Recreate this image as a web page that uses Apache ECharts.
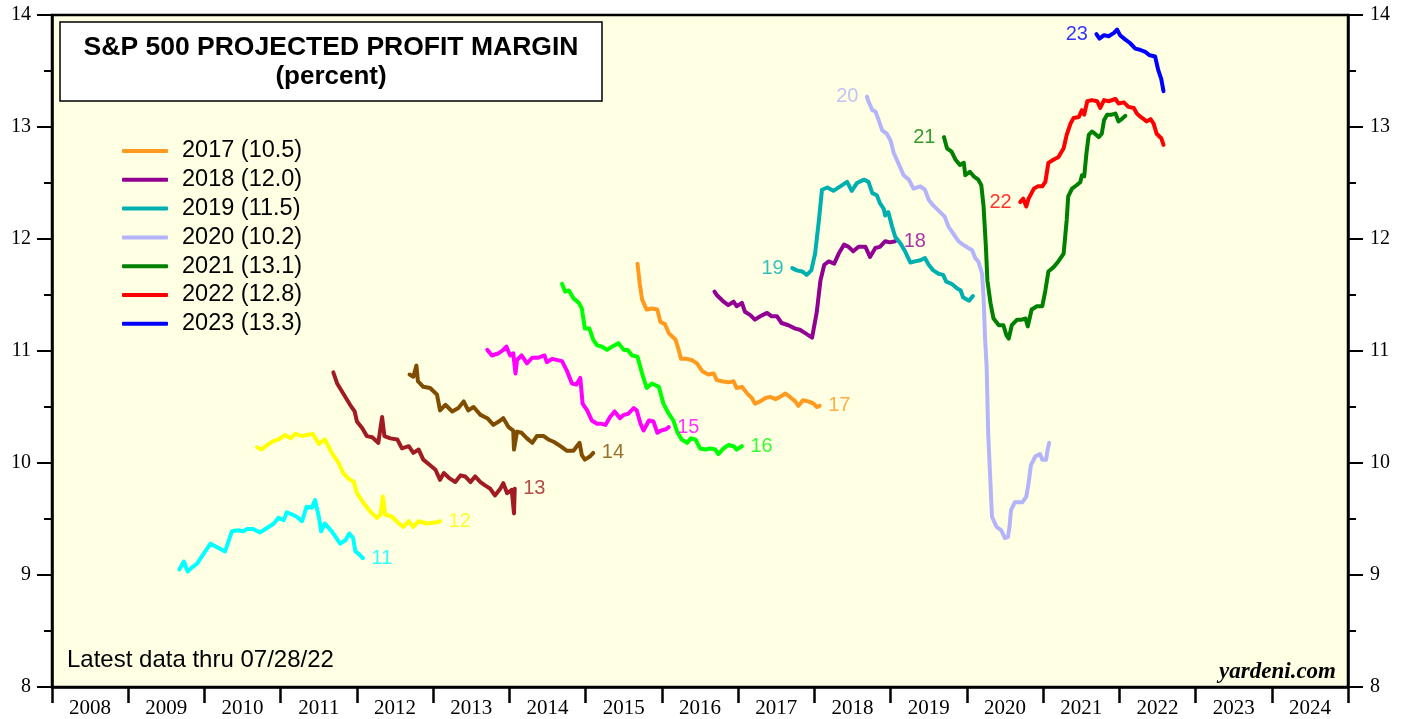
<!DOCTYPE html>
<html>
<head>
<meta charset="utf-8">
<script src="https://cdn.jsdelivr.net/npm/echarts@6.0.0/dist/echarts.min.js"></script>
<style>
html,body{margin:0;padding:0;background:#fff;}
#chart{width:1407px;height:719px;}
</style>
</head>
<body>
<div id="chart"></div>
<script>
// ---- tick labels ----
const yearLabels = ['2008','2009','2010','2011','2012','2013','2014','2015','2016','2017','2018','2019','2020','2021','2022','2023','2024'];

// ---- series data: [decimal year, projected margin %] ----
const s11 = [[2009.67,9.05],[2009.73,9.12],[2009.78,9.03],[2009.84,9.07],[2009.90,9.10],[2009.99,9.19],[2010.08,9.28],[2010.16,9.25],[2010.27,9.21],[2010.36,9.39],[2010.45,9.40],[2010.51,9.39],[2010.56,9.41],[2010.64,9.41],[2010.73,9.38],[2010.82,9.42],[2010.91,9.46],[2010.97,9.51],[2011.04,9.49],[2011.08,9.56],[2011.15,9.54],[2011.21,9.52],[2011.28,9.48],[2011.34,9.61],[2011.41,9.60],[2011.45,9.67],[2011.50,9.52],[2011.53,9.39],[2011.58,9.46],[2011.67,9.39],[2011.78,9.28],[2011.85,9.31],[2011.90,9.37],[2011.95,9.33],[2011.98,9.21],[2012.02,9.19],[2012.08,9.15]];
const s12 = [[2010.69,10.14],[2010.75,10.12],[2010.82,10.16],[2010.89,10.19],[2010.97,10.21],[2011.06,10.25],[2011.13,10.22],[2011.19,10.26],[2011.28,10.24],[2011.34,10.25],[2011.42,10.26],[2011.50,10.17],[2011.58,10.21],[2011.67,10.09],[2011.76,10.00],[2011.82,9.91],[2011.89,9.86],[2011.96,9.83],[2012.00,9.73],[2012.09,9.64],[2012.17,9.57],[2012.26,9.51],[2012.31,9.54],[2012.34,9.70],[2012.37,9.54],[2012.46,9.52],[2012.55,9.46],[2012.61,9.43],[2012.68,9.48],[2012.74,9.43],[2012.81,9.48],[2012.92,9.46],[2013.05,9.47],[2013.09,9.48]];
const s13 = [[2011.69,10.81],[2011.74,10.71],[2011.82,10.62],[2011.91,10.52],[2011.97,10.46],[2012.00,10.37],[2012.07,10.31],[2012.13,10.24],[2012.20,10.23],[2012.28,10.18],[2012.33,10.41],[2012.36,10.24],[2012.44,10.22],[2012.53,10.21],[2012.59,10.13],[2012.68,10.15],[2012.74,10.09],[2012.81,10.12],[2012.87,10.03],[2012.96,9.98],[2013.03,9.94],[2013.09,9.85],[2013.14,9.91],[2013.22,9.86],[2013.29,9.83],[2013.36,9.89],[2013.42,9.88],[2013.49,9.83],[2013.55,9.88],[2013.62,9.83],[2013.68,9.80],[2013.75,9.77],[2013.81,9.71],[2013.88,9.77],[2013.92,9.82],[2013.97,9.73],[2014.03,9.76],[2014.06,9.55],[2014.07,9.77]];
const s14 = [[2012.69,10.79],[2012.74,10.77],[2012.78,10.87],[2012.80,10.73],[2012.87,10.68],[2012.96,10.67],[2013.05,10.61],[2013.09,10.47],[2013.16,10.52],[2013.25,10.46],[2013.33,10.49],[2013.40,10.55],[2013.46,10.47],[2013.53,10.50],[2013.62,10.43],[2013.71,10.40],[2013.79,10.34],[2013.86,10.37],[2013.92,10.40],[2013.99,10.32],[2014.05,10.29],[2014.06,10.12],[2014.10,10.28],[2014.16,10.27],[2014.23,10.22],[2014.30,10.18],[2014.36,10.24],[2014.45,10.24],[2014.51,10.21],[2014.58,10.19],[2014.67,10.15],[2014.75,10.11],[2014.84,10.11],[2014.92,10.18],[2014.95,10.07],[2014.99,10.03],[2015.06,10.06],[2015.10,10.09]];
const s15 = [[2013.71,11.01],[2013.77,10.96],[2013.86,10.98],[2013.92,11.01],[2013.96,11.04],[2014.01,10.96],[2014.05,10.98],[2014.08,10.80],[2014.10,10.92],[2014.16,10.96],[2014.23,10.89],[2014.30,10.94],[2014.38,10.94],[2014.46,10.96],[2014.49,10.90],[2014.56,10.93],[2014.69,10.91],[2014.75,10.83],[2014.82,10.71],[2014.88,10.70],[2014.93,10.76],[2014.96,10.53],[2015.02,10.47],[2015.08,10.38],[2015.15,10.35],[2015.21,10.35],[2015.26,10.34],[2015.32,10.41],[2015.38,10.46],[2015.45,10.40],[2015.50,10.43],[2015.56,10.44],[2015.63,10.49],[2015.67,10.47],[2015.72,10.35],[2015.76,10.29],[2015.83,10.38],[2015.89,10.37],[2015.94,10.27],[2015.99,10.29],[2016.05,10.30],[2016.09,10.32]];
const s16 = [[2014.69,11.60],[2014.73,11.53],[2014.78,11.54],[2014.84,11.47],[2014.91,11.43],[2014.95,11.38],[2014.99,11.20],[2015.05,11.20],[2015.10,11.10],[2015.15,11.05],[2015.21,11.04],[2015.28,11.01],[2015.35,11.04],[2015.43,11.07],[2015.50,11.01],[2015.55,11.01],[2015.61,10.96],[2015.68,10.95],[2015.74,10.80],[2015.80,10.67],[2015.87,10.71],[2015.96,10.68],[2016.02,10.53],[2016.09,10.44],[2016.15,10.38],[2016.20,10.28],[2016.26,10.21],[2016.33,10.18],[2016.38,10.22],[2016.44,10.21],[2016.50,10.13],[2016.57,10.12],[2016.63,10.13],[2016.70,10.12],[2016.74,10.08],[2016.81,10.13],[2016.87,10.16],[2016.94,10.15],[2016.98,10.12],[2017.05,10.15]];
const s17 = [[2015.68,11.78],[2015.71,11.60],[2015.74,11.46],[2015.80,11.37],[2015.87,11.38],[2015.94,11.37],[2015.98,11.26],[2016.04,11.24],[2016.09,11.16],[2016.18,11.10],[2016.22,11.01],[2016.25,10.93],[2016.33,10.93],[2016.39,10.92],[2016.46,10.89],[2016.53,10.82],[2016.61,10.79],[2016.68,10.80],[2016.72,10.74],[2016.79,10.73],[2016.87,10.72],[2016.94,10.73],[2016.98,10.67],[2017.05,10.68],[2017.12,10.62],[2017.18,10.58],[2017.22,10.53],[2017.29,10.55],[2017.36,10.58],[2017.42,10.59],[2017.49,10.57],[2017.55,10.59],[2017.62,10.62],[2017.68,10.59],[2017.75,10.55],[2017.79,10.51],[2017.85,10.56],[2017.92,10.55],[2017.99,10.53],[2018.03,10.50],[2018.07,10.51]];
const s18 = [[2016.69,11.53],[2016.72,11.50],[2016.81,11.44],[2016.87,11.41],[2016.94,11.44],[2016.98,11.40],[2017.05,11.43],[2017.09,11.35],[2017.16,11.32],[2017.22,11.28],[2017.29,11.31],[2017.38,11.34],[2017.44,11.31],[2017.51,11.31],[2017.57,11.25],[2017.66,11.23],[2017.75,11.20],[2017.81,11.19],[2017.88,11.16],[2017.97,11.12],[2017.99,11.13],[2018.03,11.34],[2018.08,11.63],[2018.13,11.77],[2018.19,11.80],[2018.26,11.78],[2018.32,11.87],[2018.39,11.95],[2018.45,11.93],[2018.51,11.89],[2018.58,11.93],[2018.67,11.93],[2018.73,11.84],[2018.80,11.92],[2018.86,11.93],[2018.93,11.98],[2018.99,11.97],[2019.06,11.98]];
const s19 = [[2017.71,11.74],[2017.77,11.72],[2017.84,11.71],[2017.90,11.68],[2017.96,11.72],[2018.01,11.87],[2018.06,12.17],[2018.10,12.44],[2018.17,12.46],[2018.25,12.43],[2018.34,12.47],[2018.43,12.51],[2018.49,12.43],[2018.56,12.50],[2018.65,12.53],[2018.71,12.51],[2018.76,12.41],[2018.82,12.39],[2018.86,12.32],[2018.91,12.27],[2018.93,12.21],[2018.97,12.24],[2019.02,12.11],[2019.06,12.02],[2019.13,11.96],[2019.19,11.89],[2019.26,11.79],[2019.32,11.80],[2019.39,11.81],[2019.45,11.83],[2019.50,11.77],[2019.56,11.72],[2019.63,11.69],[2019.69,11.68],[2019.73,11.62],[2019.80,11.60],[2019.87,11.56],[2019.92,11.54],[2019.95,11.48],[2020.00,11.46],[2020.03,11.45],[2020.08,11.49]];
const s20 = [[2018.69,13.27],[2018.71,13.23],[2018.76,13.15],[2018.80,13.14],[2018.85,13.05],[2018.89,12.97],[2018.95,12.94],[2019.00,12.88],[2019.04,12.77],[2019.10,12.68],[2019.17,12.57],[2019.24,12.53],[2019.30,12.45],[2019.39,12.47],[2019.45,12.44],[2019.50,12.35],[2019.56,12.30],[2019.65,12.24],[2019.71,12.20],[2019.76,12.11],[2019.82,12.05],[2019.89,11.98],[2019.95,11.95],[2020.02,11.92],[2020.07,11.90],[2020.11,11.83],[2020.15,11.80],[2020.20,11.69],[2020.22,11.48],[2020.24,11.10],[2020.26,10.86],[2020.28,10.27],[2020.31,9.82],[2020.33,9.52],[2020.39,9.43],[2020.45,9.40],[2020.50,9.33],[2020.54,9.34],[2020.56,9.43],[2020.58,9.58],[2020.63,9.65],[2020.73,9.65],[2020.78,9.70],[2020.81,9.82],[2020.84,9.98],[2020.90,10.06],[2020.96,10.08],[2020.99,10.03],[2021.04,10.03],[2021.06,10.12],[2021.08,10.18]];
const s21 = [[2019.70,12.91],[2019.74,12.81],[2019.80,12.78],[2019.85,12.71],[2019.91,12.66],[2019.96,12.68],[2019.98,12.57],[2020.04,12.60],[2020.09,12.56],[2020.15,12.53],[2020.19,12.48],[2020.22,12.29],[2020.25,11.93],[2020.27,11.63],[2020.31,11.43],[2020.35,11.29],[2020.42,11.23],[2020.48,11.23],[2020.52,11.14],[2020.55,11.11],[2020.59,11.23],[2020.66,11.28],[2020.72,11.28],[2020.77,11.29],[2020.80,11.22],[2020.85,11.37],[2020.92,11.40],[2020.99,11.40],[2021.03,11.54],[2021.07,11.71],[2021.14,11.75],[2021.20,11.80],[2021.27,11.87],[2021.31,12.17],[2021.33,12.38],[2021.38,12.45],[2021.44,12.48],[2021.49,12.51],[2021.51,12.57],[2021.54,12.56],[2021.57,12.77],[2021.60,12.93],[2021.64,12.96],[2021.68,12.94],[2021.73,12.91],[2021.77,12.94],[2021.80,13.06],[2021.84,13.11],[2021.90,13.11],[2021.95,13.12],[2021.99,13.05],[2022.03,13.07],[2022.08,13.10]];
const s22 = [[2020.70,12.33],[2020.74,12.36],[2020.78,12.29],[2020.81,12.36],[2020.88,12.45],[2020.93,12.47],[2020.99,12.47],[2021.03,12.51],[2021.07,12.68],[2021.14,12.71],[2021.20,12.73],[2021.27,12.81],[2021.31,12.93],[2021.36,13.03],[2021.40,13.08],[2021.47,13.09],[2021.51,13.15],[2021.54,13.11],[2021.58,13.23],[2021.64,13.24],[2021.71,13.23],[2021.75,13.17],[2021.80,13.24],[2021.86,13.23],[2021.95,13.25],[2021.99,13.21],[2022.06,13.22],[2022.12,13.18],[2022.19,13.17],[2022.23,13.12],[2022.28,13.09],[2022.36,13.05],[2022.41,13.07],[2022.45,13.03],[2022.49,12.94],[2022.55,12.90],[2022.58,12.84]];
const s23 = [[2021.70,13.83],[2021.74,13.79],[2021.80,13.82],[2021.86,13.81],[2021.93,13.84],[2021.97,13.87],[2022.01,13.82],[2022.08,13.78],[2022.14,13.75],[2022.21,13.70],[2022.27,13.69],[2022.34,13.67],[2022.40,13.64],[2022.47,13.63],[2022.51,13.51],[2022.55,13.43],[2022.58,13.32]];

// series names, short labels, label side
const seriesNames = ['2011','2012','2013','2014','2015','2016','2017 (10.5)','2018 (12.0)','2019 (11.5)','2020 (10.2)','2021 (13.1)','2022 (12.8)','2023 (13.3)'];
const shortLabels = ['11','12','13','14','15','16','17','18','19','20','21','22','23'];
const labelSide = ['end','end','end','end','end','end','end','end','start','start','start','start','start'];
const seriesData = [s11,s12,s13,s14,s15,s16,s17,s18,s19,s20,s21,s22,s23];
const colors = ['#00FFFF','#FFFF00','#A11B22','#7F4C00','#FF00FF','#00FF00','#FF9A1E','#920092','#00B0B0','#B4B4FA','#008000','#FF0000','#0000FF'];
const legendNames = seriesNames.slice(6);

const chart = echarts.init(document.getElementById('chart'), null, {renderer:'canvas'});

const lineSeries = seriesData.map((d, i) => ({
  name: seriesNames[i],
  type: 'line',
  data: d,
  showSymbol: false,
  symbol: 'none',
  xAxisIndex: 0,
  yAxisIndex: 0,
  lineStyle: {color: colors[i], width: 4, cap: 'round', join: 'round'},
  itemStyle: {color: colors[i]},
  emphasis: {disabled: true},
  silent: true,
  z: 3
}));

const labelPoints = seriesData.map((d, i) => {
  const pt = labelSide[i] === 'end' ? d[d.length - 1] : d[0];
  return {
    value: pt,
    name: shortLabels[i],
    label: {
      show: true,
      position: labelSide[i] === 'end' ? 'right' : 'left',
      distance: 8,
      formatter: shortLabels[i],
      color: colors[i],
      fontSize: 20,
      fontFamily: 'Liberation Sans, Arial, sans-serif'
    }
  };
});

const option = {
  backgroundColor: '#ffffff',
  animation: false,
  grid: {left: 52, right: 59, top: 15, bottom: 32, show: true, backgroundColor: '#FFFFE4', borderColor: '#000', borderWidth: 2.5},
  legend: {
    data: legendNames,
    orient: 'vertical',
    left: 122,
    top: 139,
    padding: 0,
    itemWidth: 46,
    itemHeight: 4,
    itemGap: 4.8,
    icon: 'roundRect',
    selectedMode: false,
    textStyle: {fontSize: 23.5, fontFamily: 'Liberation Sans, Arial, sans-serif', color: '#000', lineHeight: 24, padding: [0,0,0,9]}
  },
  xAxis: [
    {
      type: 'value', min: 2008, max: 2025, interval: 1, position: 'bottom',
      axisLine: {show: true, lineStyle: {color: '#000', width: 2.5}},
      axisTick: {show: true, inside: false, length: 16, lineStyle: {color: '#000', width: 2.5}},
      axisLabel: {show: false},
      splitLine: {show: false}
    },
    {
      type: 'category', data: yearLabels, position: 'bottom', boundaryGap: true,
      axisLine: {show: false}, axisTick: {show: false}, splitLine: {show: false},
      axisLabel: {show: true, margin: 11, fontSize: 21, color: '#000', fontFamily: 'Liberation Serif, Times New Roman, serif', interval: 0}
    }
  ],
  yAxis: [
    {
      type: 'value', min: 8, max: 14, interval: 1, position: 'left',
      axisLine: {show: true, lineStyle: {color: '#000', width: 2.5}},
      axisTick: {show: true, inside: false, length: 15, lineStyle: {color: '#000', width: 2}},
      minorTick: {show: true, splitNumber: 2, length: 8, lineStyle: {color: '#000', width: 2}},
      axisLabel: {margin: 21, fontSize: 20, color: '#000', fontFamily: 'Liberation Serif, Times New Roman, serif'},
      splitLine: {show: false}
    },
    {
      type: 'value', min: 8, max: 14, interval: 1, position: 'right',
      axisLine: {show: true, lineStyle: {color: '#000', width: 2.5}},
      axisTick: {show: true, inside: false, length: 15, lineStyle: {color: '#000', width: 2}},
      minorTick: {show: true, splitNumber: 2, length: 8, lineStyle: {color: '#000', width: 2}},
      axisLabel: {margin: 22, fontSize: 20, color: '#000', fontFamily: 'Liberation Serif, Times New Roman, serif'},
      splitLine: {show: false}
    }
  ],
  series: lineSeries.concat([{
    name: 'labels',
    type: 'scatter',
    data: labelPoints,
    symbolSize: 1,
    itemStyle: {color: 'rgba(0,0,0,0)'},
    silent: true,
    z: 4
  }]),
  graphic: [
    {
      type: 'group',
      children: [
        {type: 'rect', shape: {x: 60, y: 22, width: 542, height: 79}, style: {fill: '#fff', stroke: '#000', lineWidth: 1.5}, z: 10},
        {type: 'text', x: 331, y: 48, style: {text: 'S&P 500 PROJECTED PROFIT MARGIN', font: 'bold 26.5px Liberation Sans, Arial, sans-serif', fill: '#000', align: 'center', verticalAlign: 'middle', textAlign: 'center', textVerticalAlign: 'middle'}, z: 11},
        {type: 'text', x: 331, y: 77, style: {text: '(percent)', font: 'bold 26px Liberation Sans, Arial, sans-serif', fill: '#000', align: 'center', verticalAlign: 'middle', textAlign: 'center', textVerticalAlign: 'middle'}, z: 11}
      ]
    },
    {type: 'text', x: 67, y: 660, style: {text: 'Latest data thru 07/28/22', font: '24px Liberation Sans, Arial, sans-serif', fill: '#000', align: 'left', verticalAlign: 'middle', textAlign: 'left', textVerticalAlign: 'middle'}, z: 11},
    {type: 'text', x: 1336, y: 672, style: {text: 'yardeni.com', font: 'italic bold 23px Liberation Serif, Times New Roman, serif', fill: '#000', align: 'right', verticalAlign: 'middle', textAlign: 'right', textVerticalAlign: 'middle'}, z: 11}
  ]
};
chart.setOption(option);
</script>
</body>
</html>
